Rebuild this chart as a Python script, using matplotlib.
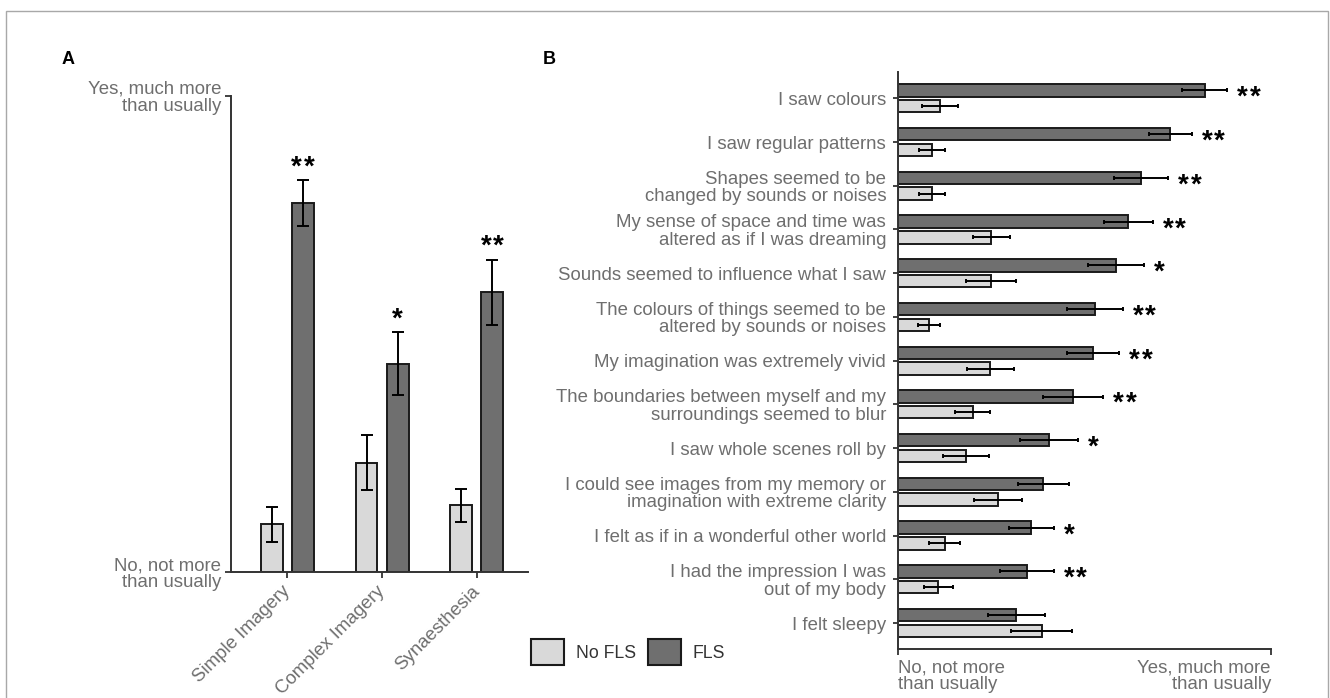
import numpy as np
import matplotlib
matplotlib.use('Agg')
import matplotlib.pyplot as plt
from matplotlib.patches import Patch, Rectangle

plt.rcParams['font.family'] = ['Liberation Sans', 'DejaVu Sans']

# Panel A: summary scores (0 = not more than usually, 4 = much more than usually)
cat_a = ['Simple Imagery', 'Complex Imagery', 'Synaesthesia']
nofls_a = [0.40, 0.92, 0.56]
nofls_a_err = [0.15, 0.23, 0.14]
fls_a = [3.10, 1.75, 2.35]
fls_a_err = [0.19, 0.265, 0.275]
sig_a = ['**', '*', '**']

# Panel B: single items
items_b = [
    'I saw colours',
    'I saw regular patterns',
    'Shapes seemed to be\nchanged by sounds or noises',
    'My sense of space and time was\naltered as if I was dreaming',
    'Sounds seemed to influence what I saw',
    'The colours of things seemed to be\naltered by sounds or noises',
    'My imagination was extremely vivid',
    'The boundaries between myself and my\nsurroundings seemed to blur',
    'I saw whole scenes roll by',
    'I could see images from my memory or\nimagination with extreme clarity',
    'I felt as if in a wonderful other world',
    'I had the impression I was\nout of my body',
    'I felt sleepy',
]
fls_b = [3.29, 2.92, 2.61, 2.47, 2.34, 2.11, 2.09, 1.88, 1.62, 1.56, 1.43, 1.38, 1.27]
fls_b_err = [0.24, 0.23, 0.29, 0.26, 0.30, 0.30, 0.28, 0.32, 0.31, 0.27, 0.24, 0.29, 0.31]
nofls_b = [0.45, 0.36, 0.36, 1.00, 1.00, 0.33, 0.99, 0.80, 0.73, 1.07, 0.50, 0.43, 1.54]
nofls_b_err = [0.19, 0.14, 0.14, 0.20, 0.27, 0.115, 0.25, 0.19, 0.245, 0.26, 0.165, 0.155, 0.33]
sig_b = ['**', '**', '**', '**', '*', '**', '**', '**', '*', '', '*', '**', '']

scale_labels_low = 'No, not more\nthan usually'
scale_labels_high = 'Yes, much more\nthan usually'

light = '#d9d9d9'
dark = '#6f6f6f'
edge = '#1a1a1a'
grey_txt = '#6e6e6e'
fs = 13.4
star_kw = dict(fontsize=20, fontweight='bold', family='Liberation Sans')
star_step = 9.0  # points between asterisks


def stars(ax, s, xy, dx, dy, centered):
    # draw asterisks one by one so they keep a small gap
    n = len(s)
    for k, ch in enumerate(s):
        kx = (k - (n - 1) / 2) * star_step if centered else k * star_step
        ax.annotate(ch, xy, xytext=(dx + kx, dy), textcoords='offset points',
                    ha='center' if centered else 'left', va='baseline', **star_kw)


fig = plt.figure(figsize=(13.3, 6.98), dpi=100)

# ---- panel A ----
axA = fig.add_axes([0.1735, 0.1805, 0.2235, 0.682])
x = np.arange(len(cat_a))
off, w = 0.164, 0.232
ekw = dict(capsize=4, elinewidth=1.4, capthick=1.4, ecolor='black')
axA.bar(x - off, nofls_a, w, yerr=nofls_a_err, color=light, edgecolor=edge,
        linewidth=1.4, error_kw=ekw)
axA.bar(x + off, fls_a, w, yerr=fls_a_err, color=dark, edgecolor=edge,
        linewidth=1.4, error_kw=ekw)
for i, s in enumerate(sig_a):
    stars(axA, s, (x[i] + off, fls_a[i] + fls_a_err[i]), 0, 4, True)
axA.set_xlim(-0.598, 2.542)
axA.set_ylim(0, 4)
axA.set_yticks([0, 4])
axA.set_yticklabels([scale_labels_low, scale_labels_high], fontsize=fs,
                    color=grey_txt, linespacing=1.0)
axA.set_xticks(x)
axA.set_xticklabels(cat_a, rotation=45, ha='right', va='center',
                    rotation_mode='anchor', fontsize=fs, color=grey_txt)
axA.tick_params(axis='y', length=4, width=1.3, pad=3, color='#333333')
axA.tick_params(axis='x', length=4, width=1.3, pad=8, color='#333333')
for sp in ['top', 'right']:
    axA.spines[sp].set_visible(False)
for sp in ['left', 'bottom']:
    axA.spines[sp].set_linewidth(1.4)
    axA.spines[sp].set_color('#333333')

# ---- panel B ----
axB = fig.add_axes([0.6752, 0.0698, 0.2804, 0.8270])
y = np.arange(len(items_b))
boff, h = 0.18, 0.285
ekwb = dict(capsize=1.6, elinewidth=1.4, capthick=1.4, ecolor='black')
axB.barh(y - boff, fls_b, h, xerr=fls_b_err, color=dark, edgecolor=edge,
         linewidth=1.4, error_kw=ekwb)
axB.barh(y + boff, nofls_b, h, xerr=nofls_b_err, color=light, edgecolor=edge,
         linewidth=1.4, error_kw=ekwb)
for i, s in enumerate(sig_b):
    if s:
        stars(axB, s, (fls_b[i] + fls_b_err[i], y[i] - boff), 7.2, -10.5, False)
axB.set_ylim(12.6, -0.6)
axB.set_xlim(0, 4)
axB.set_yticks(y)
axB.set_yticklabels(items_b, fontsize=fs, color=grey_txt, linespacing=1.02)
axB.set_xticks([0, 4])
axB.set_xticklabels([scale_labels_low, scale_labels_high], fontsize=fs,
                    color=grey_txt, linespacing=1.0)
xl = axB.get_xticklabels()
xl[0].set_ha('left')
xl[1].set_ha('right')
axB.tick_params(axis='y', length=3.5, width=1.3, pad=5, color='#333333')
axB.tick_params(axis='x', length=4, width=1.3, pad=3, color='#333333')
for sp in ['top', 'right']:
    axB.spines[sp].set_visible(False)
for sp in ['left', 'bottom']:
    axB.spines[sp].set_linewidth(1.4)
    axB.spines[sp].set_color('#333333')

# legend
handles = [Patch(facecolor=light, edgecolor=edge, linewidth=1.5),
           Patch(facecolor=dark, edgecolor=edge, linewidth=1.5)]
fig.legend(handles, ['No FLS', 'FLS'], loc='center left',
           bbox_to_anchor=(531 / 1330, 1 - 652 / 698), ncol=2, frameon=False,
           fontsize=12.7, labelcolor='#333333', handlelength=1.87, handleheight=1.87,
           handletextpad=0.68, columnspacing=0.68, borderpad=0, borderaxespad=0)

# panel letters and frame
fig.text(62 / 1330, 1 - 60 / 698, 'A', fontsize=13, fontweight='bold', va='center')
fig.text(543 / 1330, 1 - 60 / 698, 'B', fontsize=13, fontweight='bold', va='center')
fig.add_artist(Rectangle((6 / 1330, -0.02), 1322 / 1330, 1.02 - 11 / 698,
                         transform=fig.transFigure, fill=False,
                         edgecolor='#a8a8a8', linewidth=1))

fig.savefig('out.png', dpi=100)
